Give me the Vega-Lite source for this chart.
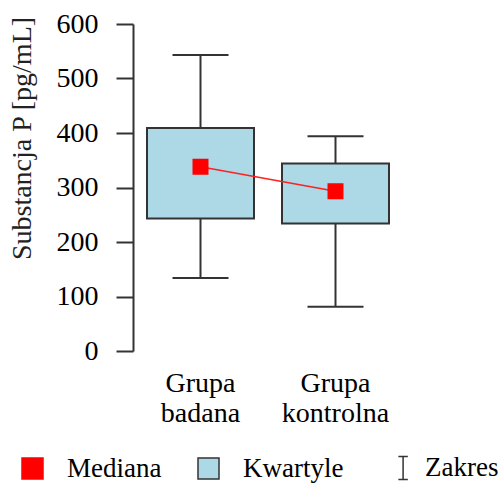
{
  "$schema": "https://vega.github.io/schema/vega-lite/v6.json",
  "autosize": {"type": "none"},
  "width": 270,
  "height": 327,
  "padding": {"left": 133, "top": 24, "right": 99, "bottom": 133},
  "background": "white",
  "config": {
    "view": {"stroke": null},
    "font": "Times New Roman, Liberation Serif, serif",
    "axis": {"labelFont": "Times New Roman, Liberation Serif, serif", "titleFont": "Times New Roman, Liberation Serif, serif", "labelColor": "black", "titleColor": "#222"}
  },
  "data": {
    "values": [
      {"grupa": "Grupa badana", "min": 134, "q1": 243, "median": 338, "q3": 409, "max": 543, "seria": "Mediana"},
      {"grupa": "Grupa kontrolna", "min": 81, "q1": 234, "median": 293, "q3": 344, "max": 394, "seria": "Mediana"}
    ]
  },
  "encoding": {
    "x": {
      "field": "grupa", "type": "nominal", "sort": null,
      "scale": {"paddingInner": 0, "paddingOuter": 0},
      "axis": {
        "title": null, "labelExpr": "split(datum.label, ' ')", "labelAngle": 0,
        "domain": false, "ticks": false, "labelFontSize": 28, "labelLineHeight": 30,
        "labelPadding": 18, "labelFontWeight": "normal"
      }
    }
  },
  "layer": [
    {
      "mark": {"type": "rule", "stroke": "#333", "strokeWidth": 2},
      "encoding": {
        "y": {
          "field": "min", "type": "quantitative",
          "scale": {"domain": [0, 600], "nice": false},
          "axis": {
            "title": "Substancja P [pg/mL]", "titleFontSize": 28, "titleFontWeight": "normal",
            "titleX": -97, "titleY": 114, "titleBaseline": "bottom", "titleAngle": 270,
            "values": [0, 100, 200, 300, 400, 500, 600],
            "grid": false, "domainColor": "#333", "domainWidth": 2, "tickColor": "#333", "tickWidth": 2,
            "tickSize": 17, "labelPadding": 18, "labelFontSize": 28
          }
        },
        "y2": {"field": "max"}
      }
    },
    {
      "mark": {"type": "bar", "size": 107, "fill": "#ADD8E6", "stroke": "#333", "strokeWidth": 2, "opacity": 1},
      "encoding": {
        "y": {"field": "q1", "type": "quantitative"},
        "y2": {"field": "q3"}
      }
    },
    {
      "mark": {"type": "tick", "size": 56, "thickness": 2, "color": "#333", "opacity": 1},
      "encoding": {"y": {"field": "max", "type": "quantitative"}}
    },
    {
      "mark": {"type": "tick", "size": 56, "thickness": 2, "color": "#333", "opacity": 1},
      "encoding": {"y": {"field": "min", "type": "quantitative"}}
    },
    {
      "mark": {"type": "line", "color": "#FF2020", "strokeWidth": 1.5},
      "encoding": {"y": {"field": "median", "type": "quantitative"}}
    },
    {
      "mark": {"type": "point", "filled": true, "size": 210, "opacity": 1, "strokeWidth": 1.5},
      "encoding": {
        "y": {"field": "median", "type": "quantitative"},
        "fill": {
          "field": "seria", "type": "nominal",
          "scale": {"domain": ["Mediana", "Kwartyle", "Zakres"], "range": ["#FF0000", "#ADD8E6", "transparent"]},
          "legend": {
            "title": null, "orient": "none", "legendX": -114, "legendY": 430, "direction": "horizontal",
            "padding": 0, "labelFont": "Times New Roman, Liberation Serif, serif", "labelFontSize": 27, "labelColor": "black",
            "labelOffset": 21, "columnPadding": 33, "symbolSize": 441, "symbolStrokeWidth": 1.5
          }
        },
        "stroke": {
          "field": "seria", "type": "nominal",
          "scale": {"domain": ["Mediana", "Kwartyle", "Zakres"], "range": ["#FF0000", "#333333", "#333333"]},
          "legend": {
            "title": null, "orient": "none", "legendX": -114, "legendY": 430, "direction": "horizontal",
            "padding": 0, "labelFont": "Times New Roman, Liberation Serif, serif", "labelFontSize": 27, "labelColor": "black",
            "labelOffset": 21, "columnPadding": 33, "symbolSize": 441, "symbolStrokeWidth": 1.5
          }
        },
        "shape": {
          "field": "seria", "type": "nominal",
          "scale": {"domain": ["Mediana", "Kwartyle", "Zakres"], "range": ["square", "square", "M0.75,-1.1H1.65M1.2,-1.1V1.1M0.75,1.1H1.65"]},
          "legend": {
            "title": null, "orient": "none", "legendX": -114, "legendY": 430, "direction": "horizontal",
            "padding": 0, "labelFont": "Times New Roman, Liberation Serif, serif", "labelFontSize": 27, "labelColor": "black",
            "labelOffset": 21, "columnPadding": 33, "symbolSize": 441, "symbolStrokeWidth": 1.5
          }
        }
      }
    }
  ]
}
